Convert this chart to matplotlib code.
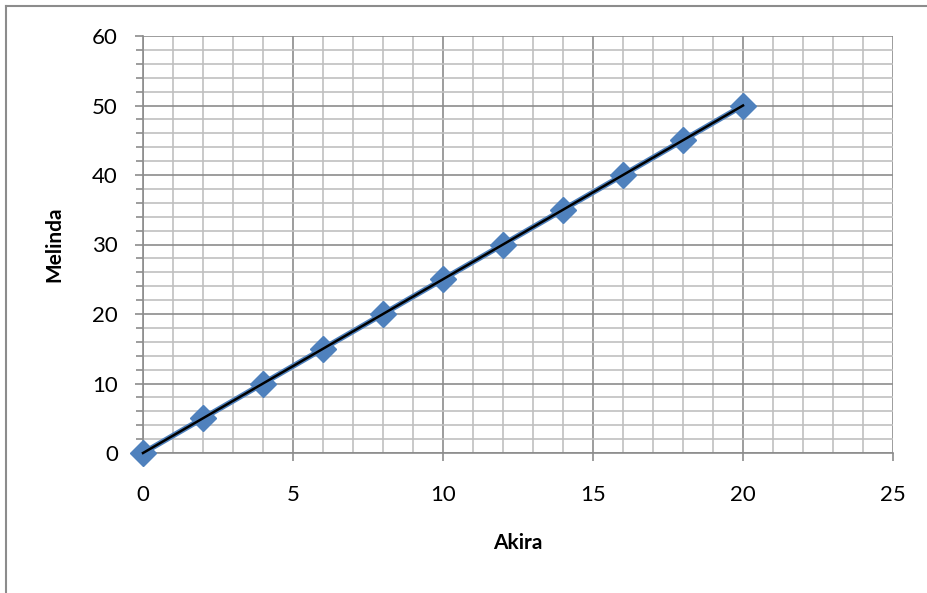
import matplotlib
matplotlib.use("Agg")
import matplotlib.pyplot as plt
from matplotlib.lines import Line2D
import numpy as np

akira = [0, 2, 4, 6, 8, 10, 12, 14, 16, 18, 20]
melinda = [0, 5, 10, 15, 20, 25, 30, 35, 40, 45, 50]
x_ticks = [0, 5, 10, 15, 20, 25]
y_ticks = [0, 10, 20, 30, 40, 50, 60]

plt.rcParams['font.family'] = ['Lato', 'DejaVu Sans']

fig = plt.figure(figsize=(9.28, 5.93), dpi=100)
ax = fig.add_axes([143/928, 1-453/593, 750/928, 417/593])

# outer chart-area border (only left and top visible in the reference)
fig.lines.append(Line2D([6/928, 6/928], [0, 1-6/593], transform=fig.transFigure,
                        color='#8c8c8c', linewidth=1.5))
fig.lines.append(Line2D([6/928, 1], [1-6/593, 1-6/593], transform=fig.transFigure,
                        color='#8c8c8c', linewidth=1.5))

ax.set_xlim(0, 25)
ax.set_ylim(0, 60)
ax.set_xticks(x_ticks)
ax.set_yticks(y_ticks)
ax.set_xticks(np.arange(0, 26, 1), minor=True)
ax.set_yticks(np.arange(0, 61, 2), minor=True)
ax.grid(which='minor', color='#c0c0c0', linewidth=1.2)
ax.grid(which='major', color='#8c8c8c', linewidth=1.2)
ax.set_axisbelow(True)

for s in ['top', 'right']:
    ax.spines[s].set_visible(False)
for s in ['left', 'bottom']:
    ax.spines[s].set_color('#8c8c8c')
    ax.spines[s].set_linewidth(1.2)

ax.tick_params(axis='both', which='major', labelsize=16, color='#8c8c8c', length=6, width=1.2)
ax.tick_params(axis='y', which='minor', color='#8c8c8c', length=5, width=1.2)
ax.tick_params(axis='x', which='minor', length=0)
ax.tick_params(axis='x', pad=17)
ax.tick_params(axis='y', pad=12)

ax.plot(akira, melinda, color='#4f81bd', linewidth=4, marker='D', markersize=13,
        markerfacecolor='#4f81bd', markeredgecolor='#4f81bd', zorder=3, clip_on=False)
coef = np.polyfit(akira, melinda, 1)
xt = np.array([akira[0], akira[-1]])
ax.plot(xt, np.polyval(coef, xt), color='black', linewidth=1.8, zorder=4, clip_on=False)

ax.set_xlabel('Akira', fontsize=15, fontweight='bold', labelpad=20)
ax.set_ylabel('Melinda', fontsize=15, fontweight='bold', labelpad=20)

fig.savefig('out.png', dpi=100)
